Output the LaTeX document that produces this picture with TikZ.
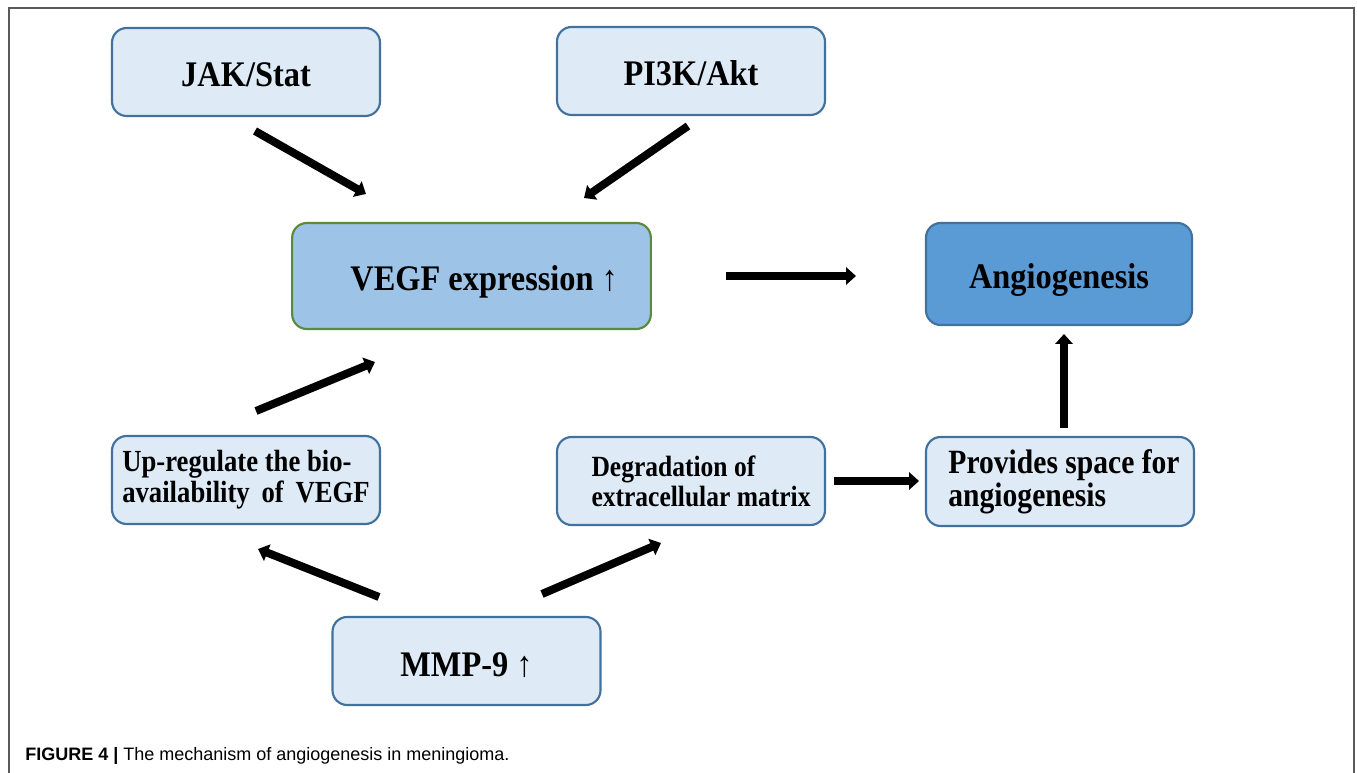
\documentclass[tikz,border=0pt]{standalone}
\usepackage{fontspec}
\setmainfont{Liberation Serif}
\newfontfamily\lblfont[FakeStretch=0.9]{Liberation Serif}
\newfontfamily\smallfont[FakeStretch=0.87]{Liberation Serif}
\newfontfamily\capfont{Liberation Sans}
\usetikzlibrary{arrows.meta}
\definecolor{lightfill}{HTML}{DEEBF7}
\definecolor{boxborder}{HTML}{41719C}
\definecolor{vegffill}{HTML}{9DC3E6}
\definecolor{vegfborder}{HTML}{5A8A3A}
\definecolor{angiofill}{HTML}{5B9BD5}
\definecolor{framegray}{HTML}{5A5A5A}
\tikzset{
  box/.style={draw=boxborder, fill=lightfill, line width=1.6pt, rounded corners=11pt,
    minimum width=201pt, minimum height=66pt, inner sep=0pt, outer sep=0pt,
    font=\lblfont\fontsize{27}{30}\selectfont\bfseries, text height=22.5pt, text depth=0pt},
  smallbox/.style={draw=boxborder, fill=lightfill, line width=1.6pt, rounded corners=11pt,
    minimum width=201pt, minimum height=66pt, inner sep=0pt, outer sep=0pt, align=left},
  fatarrow/.style={line width=6pt, -{Triangle[width=13pt,length=7.5pt]}},
}
\begin{document}
\begin{tikzpicture}[x=0.75pt,y=-0.75pt]
\useasboundingbox (0,0) rectangle (1357,773);
% frame
\draw[framegray, line width=1.5pt] (8.5,773) -- (8.5,8.5) -- (1354,8.5) -- (1354,773);

% boxes
\node[box] (jak) at (246,72) {JAK/Stat};
\node[box] (pi3k) at (691,71) {PI3K/Akt};
\node[box, draw=vegfborder, fill=vegffill, minimum width=269pt, minimum height=79.5pt] (vegf) at (471.5,276) {\hspace*{19pt}VEGF expression ↑};
\node[box, fill=angiofill, minimum width=199.5pt, minimum height=76.5pt] (angio) at (1059,274) {Angiogenesis};
\node[smallbox, font=\smallfont\fontsize{23}{23}\selectfont\bfseries] (upreg) at (246,480) {Up-regulate the bio-\\availability\, of\, VEGF};
\node[smallbox, font=\smallfont\fontsize{22}{22.5}\selectfont\bfseries] (degr) at (691,481) {\hspace*{15pt}Degradation of\\\hspace*{15pt}extracellular matrix};
\node[smallbox, minimum height=66.75pt, font=\smallfont\fontsize{25.5}{25}\selectfont\bfseries] (prov) at (1060,481.5) {\hspace*{6pt}Provides space for\\\hspace*{6pt}angiogenesis};
\node[box] (mmp) at (466.5,661) {MMP-9 ↑};

% arrow end points
\coordinate (a1s) at (255,131); \coordinate (a1e) at (366,194);
\coordinate (a2s) at (688,126); \coordinate (a2e) at (584,198);
\coordinate (a3s) at (726,276); \coordinate (a3e) at (856,276);
\coordinate (a4s) at (256,411); \coordinate (a4e) at (375,362);
\coordinate (a5s) at (1064,428); \coordinate (a5e) at (1064,334);
\coordinate (a6s) at (834,481); \coordinate (a6e) at (919,481);
\coordinate (a7s) at (379,597); \coordinate (a7e) at (258,549);
\coordinate (a8s) at (542,594); \coordinate (a8e) at (661,543);

\draw[fatarrow] (a1s) -- (a1e);
\draw[fatarrow] (a2s) -- (a2e);
\draw[fatarrow] (a3s) -- (a3e);
\draw[fatarrow] (a4s) -- (a4e);
\draw[fatarrow] (a5s) -- (a5e);
\draw[fatarrow] (a6s) -- (a6e);
\draw[fatarrow] (a7s) -- (a7e);
\draw[fatarrow] (a8s) -- (a8e);

% caption
\node[anchor=base west, inner sep=0pt, font=\capfont\fontsize{13.5}{16}\selectfont] (cap) at (25,760)
  {\textbf{FIGURE 4 |} The mechanism of angiogenesis in meningioma.};
\end{tikzpicture}
\end{document}
